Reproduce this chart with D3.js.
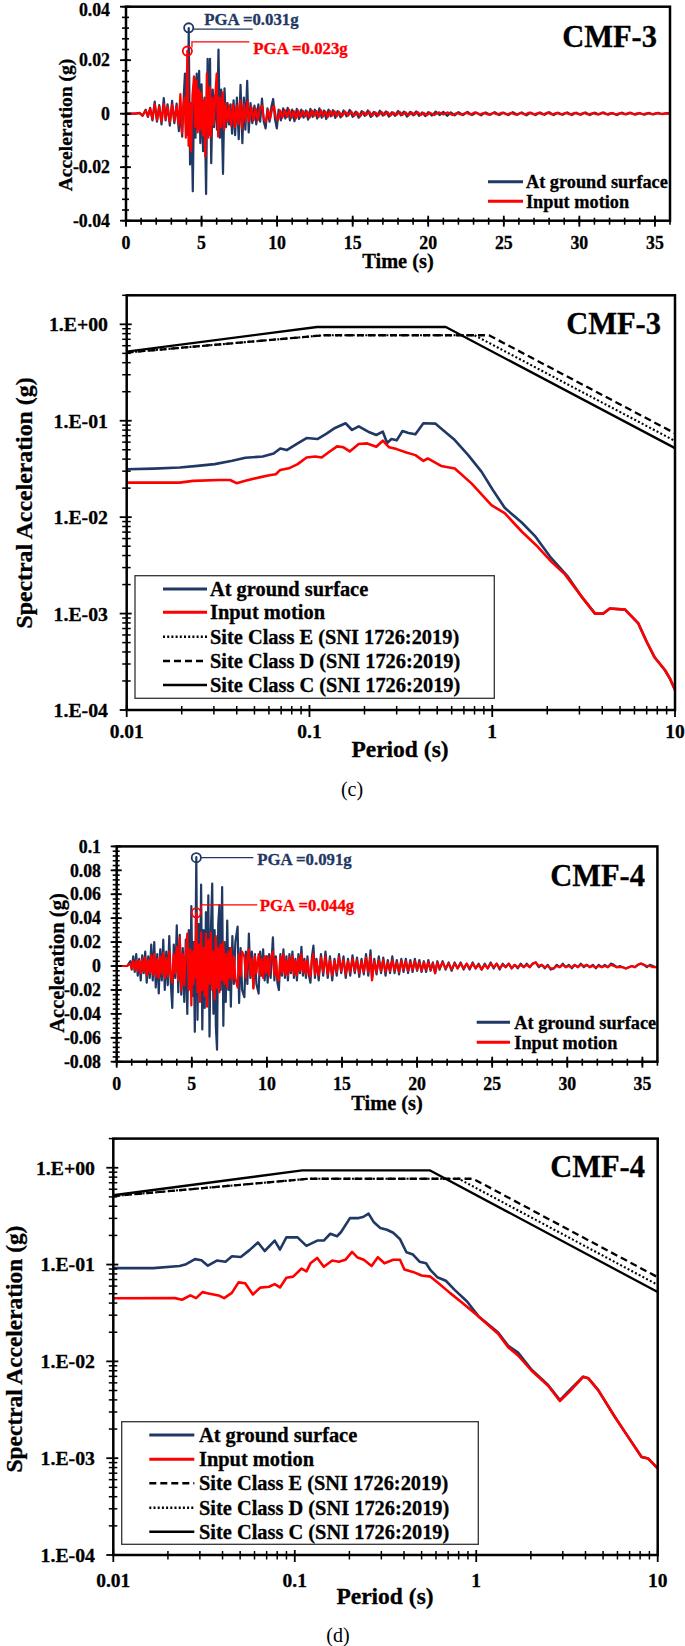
<!DOCTYPE html>
<html><head><meta charset="utf-8">
<script src="https://cdn.jsdelivr.net/npm/d3@7"></script>
<style>
body{margin:0;background:#fff}
svg{display:block}
text{font-family:"Liberation Serif","Times New Roman",serif}
</style>
</head><body>
<svg id="c" width="685" height="1646"></svg>
<script>
// ---------------- DATA ----------------
// Time axis ticks (s)
const timeTicks = [0,5,10,15,20,25,30,35];
// Acceleration ticks (g)
const cmf3AccTicks = [-0.04,-0.02,0,0.02,0.04];
const cmf3AccLabels = ["-0.04","-0.02","0","0.02","0.04"];
const cmf4AccTicks = [-0.08,-0.06,-0.04,-0.02,0,0.02,0.04,0.06,0.08,0.1];
const cmf4AccLabels = ["-0.08","-0.06","-0.04","-0.02","0","0.02","0.04","0.06","0.08","0.1"];
// Spectral axes
const periodTicks = [0.01,0.1,1,10];
const periodLabels = ["0.01","0.1","1","10"];
const saTicks = [1e-4,1e-3,1e-2,1e-1,1];
const saLabels = ["1.E-04","1.E-03","1.E-02","1.E-01","1.E+00"];

// CMF-3 acceleration time histories [time s, acc mg]
const cmf3Ground = [[0,0],[0.6,0],[0.9,0.3],[1.1,-0.8],[1.3,1.5],[1.45,-1.2],[1.6,2.2],[1.75,-2.5],[1.9,4.5],[2.05,-3],[2.2,3.2],[2.35,-4],[2.5,5.8],[2.62,-2.5],[2.75,3.5],[2.9,-4.5],[3.05,4.8],[3.2,-3.5],[3.35,3.8],[3.5,-6.5],[3.62,1.5],[3.72,-8.6],[3.82,6],[3.9,15],[3.97,-5],[4.04,13],[4.1,-8],[4.15,32],[4.24,-19],[4.32,4],[4.42,-29],[4.52,13.5],[4.6,-9],[4.68,15],[4.76,-6],[4.84,16],[4.92,-11],[5.0,11],[5.1,-14],[5.2,6],[5.3,-30],[5.4,20.5],[5.48,-8],[5.56,20.5],[5.64,-18.5],[5.74,9],[5.82,-5],[5.92,7],[6.02,-6],[6.12,24],[6.22,-9],[6.3,9],[6.42,-22.5],[6.52,9.5],[6.62,-5],[6.72,4],[6.82,-4],[6.92,3.5],[7.02,-7.5],[7.12,5],[7.22,-8],[7.34,6],[7.46,-9.5],[7.58,10.8],[7.7,-11],[7.8,6],[7.9,-6],[8.02,12.3],[8.12,-7],[8.24,4],[8.36,-3.5],[8.5,3],[8.62,-4],[8.76,3.5],[8.88,-3],[9.0,5.6],[9.12,-3],[9.24,-5.5],[9.36,2],[9.5,-3],[9.62,2.5],[9.74,5.5],[9.86,-2],[9.98,-5.5],[10.1,1.5],[10.25,-2.5],[10.4,2],[10.55,-1.8],[10.7,2.2],[10.85,-2.5],[11.0,1.5],[11.15,-2.8],[11.3,1.8],[11.45,-2],[11.6,1.5],[11.75,-1.5],[11.9,1.2],[12.05,-2.2],[12.2,1.8],[12.35,-1.2],[12.5,1.5],[12.65,-1.8],[12.8,2],[12.95,-1.5],[13.1,1.2],[13.25,-2],[13.4,1.5],[13.55,-1],[13.7,1.3],[13.85,-1.6],[14.0,1],[14.2,-1.4],[14.4,1.2],[14.6,-1],[14.8,1.4],[15.0,-1.2],[15.2,0.8],[15.4,-1.5],[15.6,1],[15.8,-0.8],[16.0,1.2],[16.2,-1.2],[16.4,0.7],[16.6,-1],[16.8,1.1],[17.0,-0.7],[17.2,0.9],[17.4,-1.1],[17.6,0.6],[17.8,-0.8],[18.0,1],[18.2,-0.6],[18.4,0.8],[18.6,-1.1],[18.8,0.7],[19.0,-0.6],[19.2,0.9],[19.4,-0.8],[19.6,0.5],[19.8,-0.9],[20.0,0.6],[20.25,-0.7],[20.5,0.8],[20.75,-0.5],[21.0,0.7],[21.25,-0.8],[21.5,0.5],[21.75,-0.6],[22.0,0.6],[22.3,-0.5],[22.6,0.7],[22.9,-0.5],[23.2,0.4],[23.5,-0.6],[23.8,0.5],[24.1,-0.4],[24.4,0.6],[24.7,-0.5],[25.0,0.4],[25.3,-0.5],[25.6,0.6],[25.9,-0.4],[26.2,0.5],[26.5,-0.6],[26.8,0.4],[27.1,-0.5],[27.4,0.5],[27.7,-0.4],[28.0,0.6],[28.3,-0.5],[28.6,0.4],[28.9,-0.4],[29.2,0.5],[29.5,-0.5],[29.8,0.4],[30.1,-0.4],[30.4,0.5],[30.7,-0.5],[31.0,0.4],[31.3,-0.3],[31.6,0.5],[31.9,-0.4],[32.2,0.3],[32.5,-0.5],[32.8,0.4],[33.1,-0.3],[33.4,0.4],[33.7,-0.4],[34.0,0.3],[34.3,-0.4],[34.6,0.3],[34.9,-0.3],[35.2,0.3],[35.5,-0.2],[35.8,0.2],[36,0]];
const cmf3Input = [[0,0],[0.6,0],[0.9,0.2],[1.1,-0.6],[1.3,1.2],[1.45,-0.9],[1.6,1.8],[1.75,-2],[1.9,3.5],[2.05,-2.4],[2.2,2.6],[2.35,-3],[2.5,3.6],[2.62,-1.8],[2.75,2.6],[2.9,-3.2],[3.05,3.4],[3.2,-2.6],[3.35,2.8],[3.48,-4.2],[3.6,7.3],[3.7,-7.4],[3.8,3.5],[3.88,6],[3.96,-9],[4.06,23.5],[4.14,-12],[4.22,4],[4.3,-14],[4.4,7],[4.5,14],[4.58,-5],[4.66,12.5],[4.74,-7],[4.82,9],[4.9,-6],[4.98,8],[5.07,-8],[5.16,5],[5.25,-16],[5.35,15],[5.45,-9],[5.55,10],[5.63,-8.5],[5.72,6],[5.8,-4],[5.9,6],[6.0,15],[6.1,-8.6],[6.2,6],[6.3,-5],[6.4,8],[6.5,-6],[6.6,4],[6.72,-3],[6.84,3],[6.96,-4.5],[7.08,3.5],[7.2,-5],[7.32,3],[7.44,-4],[7.56,5],[7.68,-5.5],[7.8,3.5],[7.92,-3],[8.04,4.5],[8.16,-3],[8.3,2.5],[8.44,-2.5],[8.58,2],[8.72,-2.5],[8.86,2],[9.0,3],[9.12,-2],[9.26,-3],[9.4,1.5],[9.54,-2],[9.68,2],[9.8,2.8],[9.92,-1.5],[10.05,-2.5],[10.2,1.2],[10.35,-1.5],[10.5,1.4],[10.65,-1.2],[10.8,1.5],[10.95,-1.6],[11.1,1],[11.25,-1.8],[11.4,1.2],[11.55,-1.3],[11.7,1],[11.85,-1],[12.0,0.8],[12.15,-1.5],[12.3,1.2],[12.45,-0.8],[12.6,1],[12.75,-1.2],[12.9,1.3],[13.05,-1],[13.2,0.8],[13.35,-1.3],[13.5,1],[13.65,-0.7],[13.8,0.9],[13.95,-1],[14.1,0.7],[14.3,-0.9],[14.5,0.8],[14.7,-0.7],[14.9,0.9],[15.1,-0.8],[15.3,0.5],[15.5,-1],[15.7,0.7],[15.9,-0.5],[16.1,0.8],[16.3,-0.8],[16.5,0.5],[16.7,-0.7],[16.9,0.7],[17.1,-0.5],[17.3,0.6],[17.5,-0.7],[17.7,0.4],[17.9,-0.5],[18.1,0.7],[18.3,-0.4],[18.5,0.5],[18.7,-0.7],[18.9,0.5],[19.1,-0.4],[19.3,0.6],[19.5,-0.5],[19.7,0.3],[19.9,-0.6],[20.1,0.4],[20.4,-0.5],[20.7,0.5],[21.0,-0.3],[21.3,0.5],[21.6,-0.5],[21.9,0.3],[22.2,-0.4],[22.5,0.4],[22.8,-0.3],[23.1,0.5],[23.4,-0.3],[23.7,0.3],[24.0,-0.4],[24.3,0.3],[24.6,-0.3],[24.9,0.4],[25.2,-0.3],[25.5,0.3],[25.8,-0.4],[26.1,0.3],[26.4,-0.3],[26.7,0.4],[27.0,-0.3],[27.3,0.3],[27.6,-0.3],[27.9,0.4],[28.2,-0.3],[28.5,0.3],[28.8,-0.3],[29.1,0.3],[29.4,-0.3],[29.7,0.3],[30.0,-0.3],[30.3,0.3],[30.6,-0.3],[30.9,0.2],[31.2,-0.3],[31.5,0.3],[31.8,-0.2],[32.1,0.2],[32.4,-0.3],[32.7,0.2],[33.0,-0.2],[33.3,0.3],[33.6,-0.2],[33.9,0.2],[34.2,-0.2],[34.5,0.2],[34.8,-0.2],[35.1,0.2],[35.4,-0.1],[35.7,0.1],[36,0]];

// CMF-4 acceleration time histories [time s, acc mg]
const cmf4Ground = [[0,0],[0.7,0],[0.9,4],[1.0,-3],[1.1,8],[1.2,-5],[1.3,10],[1.4,-8],[1.5,6],[1.6,-12],[1.7,9],[1.8,-6],[1.9,12],[2.0,-14],[2.1,8],[2.2,-10],[2.3,18],[2.4,-12],[2.5,20],[2.6,-18],[2.7,10],[2.8,-23],[2.9,14],[3.0,-12],[3.1,22],[3.2,-20],[3.3,12],[3.4,-16],[3.5,25],[3.6,-14],[3.7,-35],[3.8,18],[3.9,-10],[4.0,34],[4.1,-22],[4.2,26],[4.3,-24],[4.4,15],[4.5,-30],[4.6,22],[4.7,-40],[4.8,30],[4.9,-18],[4.97,50],[5.05,-25],[5.12,20],[5.2,-55],[5.3,91],[5.38,-45],[5.46,35],[5.54,-20],[5.62,68],[5.7,-53],[5.78,30],[5.86,-35],[5.94,45],[6.02,-25],[6.1,59],[6.18,-59],[6.26,25],[6.36,69],[6.44,-40],[6.52,30],[6.6,-50],[6.68,-70],[6.76,35],[6.84,51],[6.92,-20],[7.02,66],[7.1,-50],[7.18,20],[7.26,-30],[7.36,38],[7.44,-20],[7.52,15],[7.6,-34],[7.7,25],[7.8,-15],[7.9,20],[8.05,33],[8.15,-31],[8.25,15],[8.35,-20],[8.5,-26],[8.6,12],[8.7,-15],[8.8,27],[8.9,-10],[9.0,12],[9.1,-18],[9.2,10],[9.3,-15],[9.45,-23],[9.55,12],[9.65,-8],[9.75,14],[9.85,-12],[9.95,8],[10.05,-14],[10.15,10],[10.25,-10],[10.4,24],[10.5,-12],[10.6,8],[10.7,-14],[10.8,-20],[10.9,10],[11.0,-8],[11.1,14],[11.2,-10],[11.3,8],[11.4,-12],[11.5,10],[11.6,-6],[11.7,12],[11.8,-10],[11.9,6],[12.0,-12],[12.1,10],[12.2,-6],[12.3,16],[12.4,-8],[12.5,6],[12.6,-10],[12.7,8],[12.8,-8],[12.9,-14],[13.0,8],[13.1,17],[13.2,-10],[13.3,6],[13.45,-12],[13.6,10],[13.75,-8],[13.9,12],[14.05,-10],[14.2,8],[14.35,-12],[14.5,6],[14.65,-8],[14.8,10],[14.95,-6],[15.1,8],[15.25,-10],[15.4,6],[15.55,-8],[15.7,9],[15.85,-6],[16.0,7],[16.15,-9],[16.3,6],[16.45,-7],[16.6,10],[16.75,-8],[16.9,13],[17.0,-11],[17.15,6],[17.3,-7],[17.45,8],[17.6,-6],[17.75,7],[17.9,-8],[18.05,5],[18.2,-6],[18.35,8],[18.5,-6],[18.65,5],[18.8,-7],[18.95,6],[19.1,-5],[19.25,6],[19.4,-6],[19.55,5],[19.7,-5],[19.85,6],[20.0,-4],[20.15,5],[20.3,-5],[20.45,4],[20.6,-5],[20.75,5],[20.9,-4],[21.05,3],[21.2,-6],[21.35,4],[21.5,-3],[21.7,4],[21.9,-3],[22.1,3],[22.3,-4],[22.5,3],[22.7,-2],[22.9,3],[23.1,-3],[23.3,2],[23.5,-3],[23.7,3],[23.9,-2],[24.1,2],[24.3,-3],[24.5,2],[24.7,-2],[24.9,3],[25.1,-2],[25.3,2],[25.5,-3],[25.7,2],[25.9,-1],[26.1,2],[26.3,-2],[26.5,1],[26.7,-2],[26.9,2],[27.1,-1],[27.3,2],[27.5,-1],[27.7,2],[27.9,3],[28.1,-1],[28.3,1],[28.5,-2],[28.7,1],[28.9,-3],[29.1,-2],[29.3,1],[29.5,-1],[29.7,2],[29.9,-1],[30.1,1],[30.3,-2],[30.5,1],[30.7,-1],[30.9,2],[31.1,-1],[31.3,1],[31.5,-1],[31.7,1],[31.9,-2],[32.1,1],[32.3,-1],[32.5,1],[32.7,-1],[32.9,2],[33.1,1],[33.3,-1],[33.5,0],[33.7,-1],[33.9,-2],[34.1,-1],[34.3,0],[34.5,-1],[34.7,1],[34.9,2],[35.1,1],[35.3,-1],[35.5,1],[35.7,0],[35.9,-1],[36,-1]];
const cmf4Input = [[0,0],[0.7,0],[0.9,2],[1.0,-2],[1.1,4],[1.2,-3],[1.3,5],[1.4,-4],[1.5,4],[1.6,-6],[1.7,6],[1.8,-4],[1.9,7],[2.0,-8],[2.1,5],[2.2,-6],[2.3,9],[2.4,-7],[2.5,10],[2.6,-9],[2.7,6],[2.8,-10],[2.9,8],[3.0,-7],[3.1,11],[3.2,-10],[3.3,7],[3.4,-9],[3.5,12],[3.6,-8],[3.7,-14],[3.8,10],[3.9,-6],[4.0,16],[4.1,-12],[4.2,24],[4.3,-20],[4.4,10],[4.5,-16],[4.6,12],[4.7,27],[4.8,-20],[4.9,14],[4.97,-33],[5.05,12],[5.12,-15],[5.2,20],[5.25,-10],[5.3,44.5],[5.38,-22],[5.46,18],[5.54,-30],[5.62,28],[5.7,-20],[5.78,15],[5.86,-25],[5.94,27],[6.02,-34],[6.1,22],[6.18,-15],[6.26,28],[6.36,-20],[6.44,12],[6.52,-28],[6.6,25],[6.68,-18],[6.76,15],[6.84,-22],[6.92,18],[7.02,-12],[7.1,20],[7.18,-15],[7.26,10],[7.36,-18],[7.44,12],[7.52,-10],[7.6,15],[7.7,-12],[7.8,8],[7.9,-10],[8.05,-18],[8.15,10],[8.25,-8],[8.35,12],[8.5,8],[8.6,-10],[8.7,6],[8.8,14],[8.9,-8],[9.0,6],[9.1,-19],[9.2,8],[9.3,-6],[9.45,10],[9.55,-8],[9.65,6],[9.75,-10],[9.85,8],[9.95,-6],[10.05,8],[10.15,-8],[10.25,6],[10.4,12],[10.5,-8],[10.6,6],[10.7,-10],[10.8,-12],[10.9,8],[11.0,-6],[11.1,10],[11.2,-7],[11.3,5],[11.4,-8],[11.5,7],[11.6,-4],[11.7,8],[11.8,-7],[11.9,4],[12.0,-8],[12.1,7],[12.2,-4],[12.3,10],[12.4,-5],[12.5,4],[12.6,-7],[12.7,5],[12.8,-5],[12.9,-9],[13.0,5],[13.1,10],[13.2,-7],[13.3,4],[13.45,-8],[13.6,7],[13.75,-5],[13.9,8],[14.05,-7],[14.2,5],[14.35,-8],[14.5,4],[14.65,-5],[14.8,7],[14.95,-4],[15.1,5],[15.25,-7],[15.4,4],[15.55,-5],[15.7,6],[15.85,-4],[16.0,5],[16.15,-6],[16.3,4],[16.45,-5],[16.6,7],[16.75,-5],[16.9,8],[17.0,-12],[17.15,4],[17.3,-5],[17.45,5],[17.6,-4],[17.75,5],[17.9,-5],[18.05,3],[18.2,-4],[18.35,5],[18.5,-4],[18.65,3],[18.8,-5],[18.95,4],[19.1,-3],[19.25,4],[19.4,-4],[19.55,3],[19.7,-3],[19.85,4],[20.0,-3],[20.15,3],[20.3,-4],[20.45,3],[20.6,-3],[20.75,3],[20.9,-3],[21.05,2],[21.2,-6],[21.35,3],[21.5,-2],[21.7,3],[21.9,-2],[22.1,2],[22.3,-3],[22.5,2],[22.7,-2],[22.9,2],[23.1,-2],[23.3,2],[23.5,-2],[23.7,2],[23.9,-2],[24.1,1],[24.3,-3],[24.5,1],[24.7,-2],[24.9,2],[25.1,-1],[25.3,2],[25.5,-2],[25.7,1],[25.9,-1],[26.1,2],[26.3,-2],[26.5,1],[26.7,-1],[26.9,1],[27.1,-1],[27.3,1],[27.5,-1],[27.7,2],[27.9,3],[28.1,0],[28.3,1],[28.5,-1],[28.7,0],[28.9,-2],[29.1,-2],[29.3,0],[29.5,-1],[29.7,1],[29.9,-1],[30.1,0],[30.3,-1],[30.5,1],[30.7,-1],[30.9,1],[31.1,0],[31.3,1],[31.5,-1],[31.7,0],[31.9,-1],[32.1,0],[32.3,-1],[32.5,0],[32.7,-1],[32.9,1],[33.1,0],[33.3,-1],[33.5,-1],[33.7,-1],[33.9,-2],[34.1,-1],[34.3,0],[34.5,-1],[34.7,1],[34.9,2],[35.1,1],[35.3,0],[35.5,0],[35.7,-1],[35.9,-1],[36,-1]];

// PGA markers
const cmf3Pga = [{t:4.15,a:0.0321,text:"PGA =0.031g",color:"ground"},{t:4.06,a:0.0234,text:"PGA =0.023g",color:"input"}];
const cmf4Pga = [{t:5.3,a:0.0906,text:"PGA =0.091g",color:"ground"},{t:5.3,a:0.0445,text:"PGA =0.044g",color:"input"}];

// Response spectra [period s, Sa g]
const cmf3SpecGround = [[0.01,0.0314],[0.0141,0.0319],[0.0195,0.0327],[0.0244,0.034],[0.0303,0.0355],[0.0378,0.0384],[0.0446,0.0413],[0.0555,0.0426],[0.0637,0.0458],[0.0692,0.0516],[0.0751,0.0496],[0.0862,0.0582],[0.0964,0.0662],[0.1105,0.0646],[0.1234,0.073],[0.138,0.0842],[0.1576,0.0942],[0.171,0.0802],[0.186,0.0876],[0.213,0.0759],[0.232,0.0711],[0.252,0.077],[0.266,0.0587],[0.281,0.0646],[0.30,0.0626],[0.323,0.0783],[0.348,0.0746],[0.38,0.0723],[0.42,0.0942],[0.488,0.0934],[0.543,0.0789],[0.624,0.063],[0.739,0.044],[0.875,0.0295],[1.01,0.019],[1.17,0.0125],[1.45,0.0088],[1.71,0.0064],[2.07,0.0039],[2.6,0.0024],[3.09,0.00149],[3.65,0.001],[4.05,0.001],[4.4,0.00113],[5.33,0.0011],[6.3,0.00079],[7.0,0.00051],[7.75,0.00035],[8.8,0.00026],[9.4,0.00021],[10,0.000162]];
const cmf3SpecInput = [[0.01,0.0228],[0.0141,0.0228],[0.0195,0.0228],[0.0231,0.0238],[0.032,0.0243],[0.0368,0.0243],[0.0399,0.0225],[0.0446,0.0238],[0.0525,0.0257],[0.0603,0.0272],[0.0655,0.0279],[0.0692,0.0309],[0.0771,0.0321],[0.0862,0.0355],[0.0964,0.0416],[0.1075,0.0426],[0.1166,0.0416],[0.1268,0.0469],[0.1416,0.0542],[0.1536,0.053],[0.166,0.0481],[0.186,0.0573],[0.207,0.0582],[0.232,0.0537],[0.252,0.0621],[0.273,0.053],[0.30,0.0508],[0.339,0.0469],[0.38,0.044],[0.42,0.0384],[0.444,0.0406],[0.525,0.034],[0.624,0.032],[0.77,0.0224],[0.99,0.0133],[1.17,0.011],[1.45,0.0071],[1.78,0.0049],[2.11,0.00344],[2.5,0.00255],[3.09,0.00149],[3.65,0.001],[4.05,0.001],[4.4,0.00113],[5.33,0.0011],[6.3,0.00079],[7.0,0.00051],[7.75,0.00035],[8.8,0.00026],[9.4,0.00021],[10,0.000162]];
const cmf4SpecGround = [[0.01,0.0918],[0.0166,0.0918],[0.0232,0.0966],[0.0252,0.101],[0.0282,0.1138],[0.0306,0.111],[0.0332,0.0973],[0.0372,0.11],[0.0415,0.107],[0.0451,0.1217],[0.0504,0.1197],[0.0563,0.141],[0.0627,0.169],[0.0683,0.138],[0.0775,0.177],[0.0829,0.143],[0.0899,0.191],[0.1036,0.191],[0.1159,0.156],[0.133,0.177],[0.1445,0.177],[0.157,0.208],[0.171,0.196],[0.18,0.217],[0.2014,0.302],[0.225,0.302],[0.238,0.31],[0.255,0.336],[0.273,0.273],[0.296,0.239],[0.322,0.229],[0.3487,0.213],[0.3795,0.184],[0.4125,0.134],[0.4483,0.127],[0.487,0.107],[0.529,0.103],[0.56,0.0874],[0.61,0.074],[0.68,0.068],[0.763,0.0545],[0.89,0.0416],[1.025,0.0295],[1.32,0.0199],[1.5,0.0145],[1.7,0.0123],[2.02,0.0082],[2.49,0.0057],[2.89,0.00398],[3.28,0.00506],[3.88,0.00693],[4.14,0.0067],[4.7,0.00505],[5.8,0.00268],[6.87,0.00166],[8.15,0.00103],[8.87,0.00099],[10,0.000785]];
const cmf4SpecInput = [[0.01,0.0448],[0.0219,0.045],[0.0239,0.0433],[0.0266,0.048],[0.0286,0.045],[0.031,0.0519],[0.034,0.05],[0.038,0.048],[0.0408,0.045],[0.045,0.051],[0.049,0.0655],[0.0533,0.064],[0.0588,0.049],[0.0645,0.0578],[0.0722,0.059],[0.0775,0.0628],[0.0829,0.058],[0.0899,0.073],[0.098,0.075],[0.109,0.091],[0.116,0.085],[0.122,0.103],[0.133,0.117],[0.1445,0.095],[0.161,0.11],[0.175,0.107],[0.19,0.112],[0.207,0.135],[0.222,0.118],[0.24,0.112],[0.265,0.0966],[0.287,0.119],[0.312,0.103],[0.349,0.112],[0.38,0.112],[0.402,0.0888],[0.448,0.084],[0.5,0.077],[0.56,0.075],[0.627,0.063],[0.716,0.051],[0.843,0.0399],[1.0,0.0305],[1.32,0.0193],[1.5,0.014],[1.7,0.0115],[2.02,0.008],[2.49,0.0056],[2.89,0.0039],[3.28,0.0049],[3.88,0.00693],[4.14,0.0067],[4.7,0.00505],[5.8,0.00268],[6.87,0.00166],[8.15,0.00103],[8.87,0.00099],[10,0.000785]];

// SNI 1726:2019 design spectra [period s, Sa g]
const designSolid  = [[0.01,0.52],[0.11,0.938],[0.557,0.938],[10,0.052]];
const designDashed = [[0.01,0.51],[0.12,0.77],[0.96,0.77],[10,0.074]];
const designDotted = [[0.01,0.51],[0.12,0.77],[0.80,0.77],[10,0.0617]];

const cmf3SpecLegend = ["At ground surface","Input motion","Site Class E (SNI 1726:2019)","Site Class D (SNI 1726:2019)","Site Class C (SNI 1726:2019)"];
const cmf3SpecLegendStyle = ["ground","input","dotted","dashed","solid"];
const cmf4SpecLegend = ["At ground surface","Input motion","Site Class E (SNI 1726:2019)","Site Class D (SNI 1726:2019)","Site Class C (SNI 1726:2019)"];
const cmf4SpecLegendStyle = ["ground","input","dashed","dotted","solid"];

// ---------------- DRAWING ----------------
const svg = d3.select("#c");
const BLUE = "#1F3864", RED = "#FF0000";
const STY = {
  ground:{stroke:BLUE,w:2.6,dash:null},
  input:{stroke:RED,w:2.6,dash:null},
  solid:{stroke:"#000",w:2.3,dash:null},
  dashed:{stroke:"#000",w:2.3,dash:"7,4"},
  dotted:{stroke:"#000",w:2.1,dash:"2,2.2"}
};

function txt(g,x,y,s,o={}){
  const tr = `translate(${x},${y})` + (o.rot ? ` rotate(${o.rot})` : "");
  const c = o.fill||"#000";
  const t = g.append("text").attr("transform",tr)
    .attr("text-anchor",o.anchor||"middle").attr("dy","0.35em")
    .attr("font-size",o.size||16).attr("font-weight",o.weight||"bold")
    .attr("fill",c).text(s);
  if((o.weight||"bold")==="bold") t.attr("stroke",c).attr("stroke-width",0.3);
  return t;
}
function seg(g,x1,y1,x2,y2,w,c){
  g.append("line").attr("x1",x1).attr("y1",y1).attr("x2",x2).attr("y2",y2)
   .attr("stroke",c||"#000").attr("stroke-width",w||1.5);
}

function drawTime(p){
  const g = svg.append("g");
  const x = d3.scaleLinear().domain([0,36]).range([p.left,p.right]);
  const y = d3.scaleLinear().domain(p.yDomain).range([p.bottom,p.top]);
  const line = d3.line().x(d=>x(d[0])).y(d=>y(d[1]/1000));
  g.append("path").datum(p.ground).attr("d",line).attr("fill","none")
    .attr("stroke",BLUE).attr("stroke-width",2.2).attr("stroke-linejoin","round");
  g.append("path").datum(p.input).attr("d",line).attr("fill","none")
    .attr("stroke",RED).attr("stroke-width",2.2).attr("stroke-linejoin","round");
  // frame
  g.append("rect").attr("x",p.left).attr("y",p.top).attr("width",p.right-p.left)
    .attr("height",p.bottom-p.top).attr("fill","none").attr("stroke","#000").attr("stroke-width",2.5);
  // y ticks
  p.yMinor.forEach(v=>seg(g,x(0)-4,y(v),x(0)+3,y(v),1.6));
  p.yTicks.forEach((v,i)=>{
    seg(g,x(0)-6,y(v),x(0)+5,y(v),1.8);
    txt(g,p.yLabelX,y(v)+p.yLabelShift(i),p.yLabels[i],{anchor:"end",size:17.8});
  });
  // x ticks
  d3.range(0,37).forEach(v=>seg(g,x(v),y(p.yDomain[0])-3,x(v),y(p.yDomain[0])+4,1.6));
  timeTicks.forEach(v=>{
    seg(g,x(v),y(p.yDomain[0])-5,x(v),y(p.yDomain[0])+6,1.8);
    txt(g,x(v),p.bottom+22,String(v),{size:17.8});
  });
  txt(g,(p.left+p.right)/2,p.xTitleY,"Time (s)",{size:20.4});
  txt(g,p.yTitle[0],p.yTitle[1],"Acceleration (g)",{size:p.yTitle[2],rot:-90});
  txt(g,p.titlePos[0],p.titlePos[1],p.title,{anchor:"end",size:30.5});
  // legend
  const L = p.legend;
  seg(g,L.x1,L.y,L.x2,L.y,3,BLUE);
  seg(g,L.x1,L.y+L.dy,L.x2,L.y+L.dy,3,RED);
  txt(g,L.tx,L.y,"At ground surface",{anchor:"start",size:18.3});
  txt(g,L.tx,L.y+L.dy,"Input motion",{anchor:"start",size:18.3});
  // PGA annotations
  p.pga.forEach((d,i)=>{
    const c = d.color==="ground"?BLUE:RED;
    const cx = x(d.t), cy = y(d.a);
    g.append("circle").attr("cx",cx).attr("cy",cy).attr("r",4.6)
      .attr("fill","none").attr("stroke",c).attr("stroke-width",1.8);
    const o = p.pgaLayout[i];
    g.append("path").attr("d",o.path(cx,cy)).attr("fill","none").attr("stroke",c).attr("stroke-width",1.3);
    txt(g,cx+o.tx,cy+o.ty,d.text,{anchor:"start",size:16.8,fill:c});
  });
}

function drawSpec(p){
  const g = svg.append("g");
  const x = d3.scaleLog().domain([0.01,10]).range([p.left,p.right]);
  const y = d3.scaleLog().domain([1e-4,2]).range([p.bottom,p.top]);
  const line = d3.line().x(d=>x(d[0])).y(d=>y(d[1]));
  const draw = (data,s)=>{
    const st = STY[s];
    const path = g.append("path").datum(data).attr("d",line).attr("fill","none")
      .attr("stroke",st.stroke).attr("stroke-width",st.w).attr("stroke-linejoin","round");
    if(st.dash) path.attr("stroke-dasharray",st.dash);
  };
  draw(designDotted,"dotted");
  draw(designDashed,"dashed");
  draw(designSolid,"solid");
  draw(p.ground,"ground");
  draw(p.input,"input");
  g.append("rect").attr("x",p.left).attr("y",p.top).attr("width",p.right-p.left)
    .attr("height",p.bottom-p.top).attr("fill","none").attr("stroke","#000").attr("stroke-width",2.5);
  // y ticks
  saTicks.forEach((dec,i)=>{
    seg(g,p.left-7,y(dec),p.left+5,y(dec),1.8);
    txt(g,p.yLabelX,y(dec),saLabels[i],{anchor:"end",size:19.8});
    d3.range(2,10).forEach(k=>{ const v=k*dec; if(v<=2) seg(g,p.left-4.5,y(v),p.left+4,y(v),1.5); });
  });
  periodTicks.forEach((dec,i)=>{
    seg(g,x(dec),p.bottom-5,x(dec),p.bottom+7,1.8);
    txt(g,x(dec),p.xLabelY,periodLabels[i],{size:19.5});
    if(dec<10) d3.range(2,10).forEach(k=>{ const v=k*dec; seg(g,x(v),p.bottom-4,x(v),p.bottom+4.5,1.5); });
  });
  txt(g,p.xTitle[0],p.xTitle[1],"Period (s)",{size:23.5});
  txt(g,p.yTitle[0],p.yTitle[1],"Spectral Acceleration (g)",{size:p.yTitle[2],rot:-90});
  txt(g,p.titlePos[0],p.titlePos[1],p.title,{anchor:"end",size:30.5});
  // legend
  const B = p.legendBox;
  g.append("rect").attr("x",B[0]).attr("y",B[1]).attr("width",B[2]-B[0]).attr("height",B[3]-B[1])
    .attr("fill","#fff").attr("stroke","#333").attr("stroke-width",1.3);
  p.legendLabels.forEach((lab,i)=>{
    const st = STY[p.legendStyles[i]], ry = p.legendRows[i];
    const l = g.append("line").attr("x1",p.legendLineX[0]).attr("x2",p.legendLineX[1])
      .attr("y1",ry).attr("y2",ry).attr("stroke",st.stroke).attr("stroke-width",st.w+0.3);
    if(st.dash) l.attr("stroke-dasharray",st.dash);
    txt(g,p.legendTextX,ry,lab,{anchor:"start",size:20.4});
  });
  txt(g,p.caption[0],p.caption[1],p.caption[2],{size:20,weight:"normal"});
}

drawTime({
  left:126,right:670,top:6.7,bottom:220.7,yDomain:[-0.04,0.04],
  yTicks:cmf3AccTicks,yLabels:cmf3AccLabels,yMinor:d3.range(-10,11).map(i=>i*0.004),
  yLabelShift:i=>(i===4?2.6:0),
  yLabelX:110,xTitleY:261,yTitle:[65,125,19.5],
  ground:cmf3Ground,input:cmf3Input,title:"CMF-3",titlePos:[657,36.7],
  legend:{x1:488,x2:523,y:181.7,dy:19.6,tx:526},
  pga:cmf3Pga,
  pgaLayout:[
    {path:(cx,cy)=>`M${cx+4.6},${cy+1.2}H${cx+64}`,tx:15.5,ty:-8.5},
    {path:(cx,cy)=>`M${cx+4.6},${cy-3.5}V${cy-9.3}H${cx+62}`,tx:66,ty:-3.2}
  ]
});
drawSpec({
  left:126.7,right:675,top:295.3,bottom:710,
  ground:cmf3SpecGround,input:cmf3SpecInput,title:"CMF-3",titlePos:[661,323.3],
  yLabelX:108,xLabelY:731,xTitle:[400,749],yTitle:[23.3,503,23.8],
  legendBox:[135,575.7,494.3,698.3],legendLineX:[163,207],legendTextX:210,
  legendRows:[589,612.3,636.7,661,685],
  legendLabels:cmf3SpecLegend,legendStyles:cmf3SpecLegendStyle,
  caption:[352,789,"(c)"]
});
drawTime({
  left:116.7,right:657.4,top:846.4,bottom:1061.7,yDomain:[-0.08,0.1],
  yTicks:cmf4AccTicks,yLabels:cmf4AccLabels,yMinor:d3.range(-20,26).map(i=>i*0.004),
  yLabelShift:()=>0,
  yLabelX:101,xTitleY:1103,yTitle:[56.7,963,20.5],
  ground:cmf4Ground,input:cmf4Input,title:"CMF-4",titlePos:[645,875],
  legend:{x1:476.7,x2:510,y:1022.3,dy:20,tx:514.3},
  pga:cmf4Pga,
  pgaLayout:[
    {path:(cx,cy)=>`M${cx+4.6},${cy}H${cx+57}`,tx:61,ty:1.5},
    {path:(cx,cy)=>`M${cx+5},${cy-3.5}V${cy-8}H${cx+61}`,tx:63.5,ty:-8}
  ]
});
drawSpec({
  left:113.3,right:657.7,top:1138.6,bottom:1555,
  ground:cmf4SpecGround,input:cmf4SpecInput,title:"CMF-4",titlePos:[645,1166],
  yLabelX:95,xLabelY:1580,xTitle:[385,1596],yTitle:[13.3,1349,23.4],
  legendBox:[121.7,1421.7,478.3,1544.3],legendLineX:[149.3,194.3],legendTextX:199,
  legendRows:[1435,1459.3,1483.3,1507.7,1531.7],
  legendLabels:cmf4SpecLegend,legendStyles:cmf4SpecLegendStyle,
  caption:[338,1635,"(d)"]
});
</script>
</body></html>
